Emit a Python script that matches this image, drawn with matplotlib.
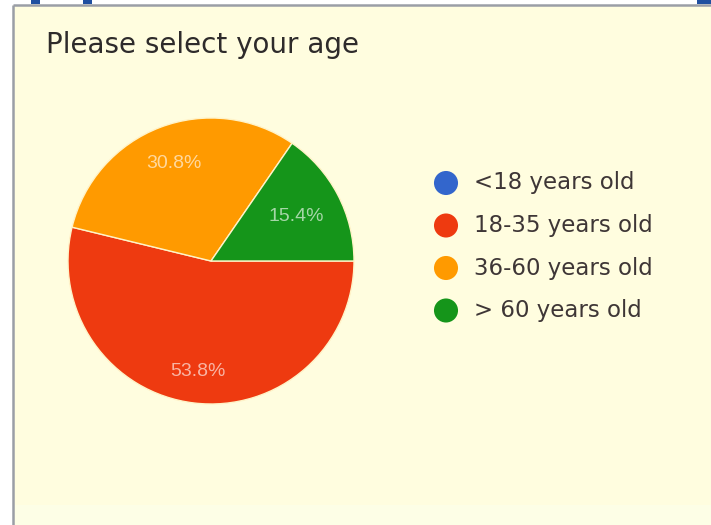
import numpy as np
import matplotlib
matplotlib.use("Agg")
import matplotlib.pyplot as plt
from matplotlib.patches import Rectangle

# Survey answers: "Please select your age"
categories = ["<18 years old", "18-35 years old", "36-60 years old", "> 60 years old"]
shares = [0.0, 53.8, 30.8, 15.4]
colors = ["#3366CC", "#EE3A10", "#FF9A00", "#15951A"]
title = "Please select your age"

# radial placement of each percentage label (fraction of the radius)
label_radius = [0.75, 0.78, 0.73, 0.67]

W, H = 711, 525
fig = plt.figure(figsize=(W / 100, H / 100), dpi=100)
fig.patch.set_facecolor("white")

# Full-figure overlay in pixel coordinates for the card, title and legend
bg = fig.add_axes([0, 0, 1, 1], zorder=0)
bg.set_xlim(0, W)
bg.set_ylim(H, 0)
bg.axis("off")

# Card panel, grey border on the top and left edges only
bg.add_patch(Rectangle((13, 5), W - 13, H - 5, facecolor="#FFFDDF", edgecolor="none"))
bg.add_patch(Rectangle((15, 505), W - 15, 20, facecolor="#FDFEE6", edgecolor="none"))
bg.plot([13, W], [5, 5], color="#9A9EA6", lw=1.8, solid_capstyle="butt")
bg.plot([13, 13], [5, H], color="#9A9EA6", lw=1.8, solid_capstyle="butt")

# Bits of the heading above the card
for x0, w in [(31, 9), (83, 9), (697, 14)]:
    bg.add_patch(Rectangle((x0, 0), w, 4, facecolor="#1F4FA0", edgecolor="none"))

bg.text(46, 53, title, fontsize=20, color="#2E2B2B", family="DejaVu Sans",
        ha="left", va="baseline")

# Legend: coloured dots with labels
for i, (lab, col) in enumerate(zip(categories, colors)):
    y = 183 + i * 42.5
    bg.scatter([446], [y], s=300, color=col, edgecolors="none")
    bg.text(474, y, lab, fontsize=16.5, color="#3E3636", family="DejaVu Sans",
            ha="left", va="center")

# Pie chart
cx, cy, r = 211, 261, 143
ax = fig.add_axes([(cx - r) / W, (H - cy - r) / H, 2 * r / W, 2 * r / H], zorder=1)


def fmt(p):
    return "" if p < 0.05 else f"{p:.1f}%"


wedges, texts, autotexts = ax.pie(
    shares, colors=colors, startangle=0, counterclock=False,
    autopct=fmt, pctdistance=0.74,
    wedgeprops=dict(edgecolor="#FFF3C8", linewidth=1.0),
    textprops=dict(color="white", alpha=0.62, fontsize=14, family="Liberation Sans"),
)
for w, t, k in zip(wedges, autotexts, label_radius):
    mid = np.deg2rad(0.5 * (w.theta1 + w.theta2))
    t.set_position((k * np.cos(mid), k * np.sin(mid)))

ax.set_xlim(-1.0, 1.0)
ax.set_ylim(-1.0, 1.0)
ax.set_aspect("equal")
ax.axis("off")

fig.savefig("out.png", dpi=100, facecolor=fig.get_facecolor())
